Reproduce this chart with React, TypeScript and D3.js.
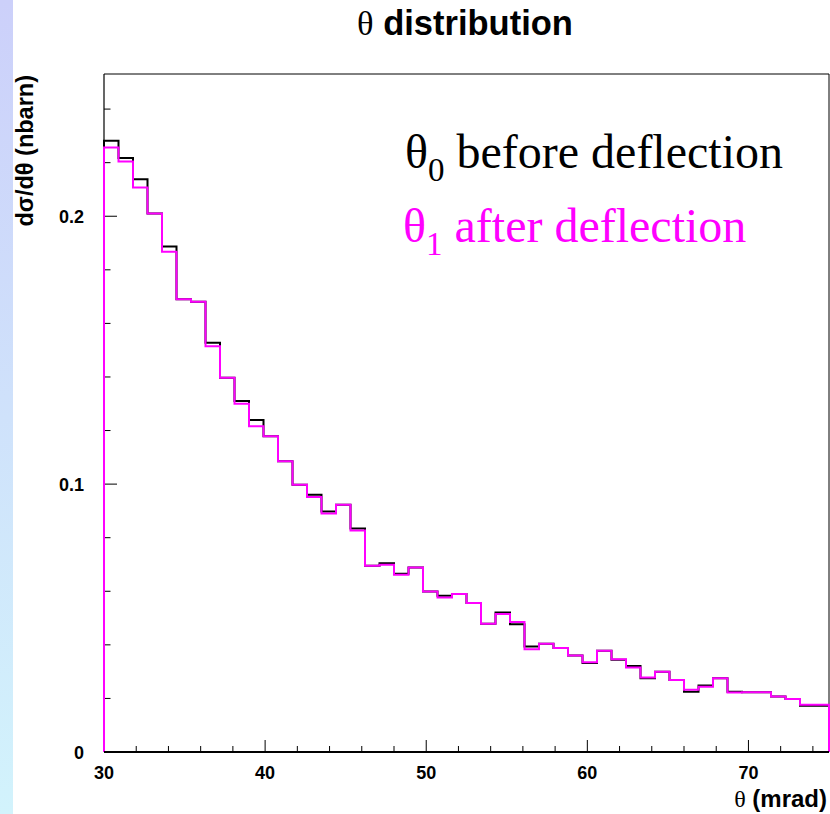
import React from "react";
import * as d3 from "d3";

const binStart = 30;
const binWidth = 0.9;
const beforeValues = [
  0.2282, 0.2217, 0.2138, 0.201, 0.1887, 0.169, 0.1681, 0.1528, 0.1397, 0.131,
  0.1239, 0.1179, 0.1085, 0.0998, 0.096, 0.0898, 0.0923, 0.0834, 0.0695, 0.0705,
  0.0665, 0.0689, 0.0599, 0.0583, 0.059, 0.0556, 0.0479, 0.0521, 0.0477, 0.0394,
  0.0404, 0.0388, 0.036, 0.0332, 0.0378, 0.0344, 0.0321, 0.0275, 0.03, 0.0269,
  0.0225, 0.0248, 0.0275, 0.0225, 0.0223, 0.0223, 0.0207, 0.0198, 0.0173, 0.0173,
];
const afterValues = [
  0.2257, 0.2204, 0.2107, 0.201, 0.1867, 0.169, 0.1681, 0.1515, 0.1397, 0.13,
  0.1216, 0.1179, 0.1085, 0.0998, 0.0952, 0.089, 0.0923, 0.0827, 0.0695, 0.0699,
  0.0662, 0.0689, 0.0599, 0.0577, 0.059, 0.0556, 0.0479, 0.0515, 0.0485, 0.0384,
  0.0404, 0.0388, 0.036, 0.0335, 0.0378, 0.0346, 0.0315, 0.0278, 0.03, 0.0269,
  0.0232, 0.0244, 0.0275, 0.0222, 0.0223, 0.0223, 0.0207, 0.0198, 0.0176, 0.0176,
];
const xMajorTicks = [30, 40, 50, 60, 70];
const xMinorTicks = [32, 34, 36, 38, 42, 44, 46, 48, 52, 54, 56, 58, 62, 64, 66, 68, 72, 74];
const yMajorTicks = [0, 0.1, 0.2];
const yMajorLabels = ["0", "0.1", "0.2"];
const yMinorTicks = [0.02, 0.04, 0.06, 0.08, 0.12, 0.14, 0.16, 0.18, 0.22, 0.24];

const W = 830;
const H = 814;
const L = 104;
const R = 829;
const T = 74;
const B = 752;

const x = d3.scaleLinear().domain([30, 75]).range([L, R]);
const y = d3.scaleLinear().domain([0, 0.2531]).range([B, T]);

function stepPath(values: number[]): string {
  const pts: [number, number][] = [];
  pts.push([binStart, 0]);
  values.forEach((v, i) => {
    const x0 = binStart + i * binWidth;
    const x1 = x0 + binWidth;
    pts.push([x0, v]);
    pts.push([x1, v]);
  });
  pts.push([binStart + values.length * binWidth, 0]);
  const line = d3
    .line<[number, number]>()
    .x((d) => x(d[0]))
    .y((d) => y(d[1]));
  return line(pts) || "";
}

const sans = "'Liberation Sans', Arial, Helvetica, sans-serif";
const serif = "'Liberation Serif', 'Times New Roman', serif";

export default function App() {
  return (
    <svg
      width={W}
      height={H}
      style={{ position: "absolute", left: 0, top: 0, background: "#fff" }}
    >
      <defs>
        <linearGradient id="strip" x1="0" y1="0" x2="0" y2="1">
          <stop offset="0%" stopColor="#ccd0fa" />
          <stop offset="100%" stopColor="#d2f3fc" />
        </linearGradient>
      </defs>
      <rect x={0} y={0} width={W} height={H} fill="#fff" />
      <rect x={0} y={0} width={13} height={H} fill="url(#strip)" />

      {/* title */}
      <text x={465} y={35} textAnchor="middle" fontFamily={sans} fontWeight="bold" fontSize={34.5}>
        <tspan fontFamily={serif} fontWeight="normal">θ</tspan>
        <tspan> distribution</tspan>
      </text>

      {/* frame */}
      <line x1={L} x2={R} y1={T} y2={T} stroke="#000" strokeWidth={1} />
      <line x1={R} x2={R} y1={T} y2={B} stroke="#000" strokeWidth={1} />
      <line x1={L} x2={L} y1={T} y2={B} stroke="#000" strokeWidth={1.2} />

      {/* y ticks */}
      {yMinorTicks.map((t) => (
        <line key={"ym" + t} x1={L} x2={L + 6.5} y1={y(t)} y2={y(t)} stroke="#000" strokeWidth={1} />
      ))}
      {yMajorTicks.map((t, i) => (
        <g key={"yM" + t}>
          <line x1={L} x2={L + 13} y1={y(t)} y2={y(t)} stroke="#000" strokeWidth={1} />
          <text
            x={84}
            y={y(t) + 7}
            textAnchor="end"
            fontFamily={sans}
            fontWeight="bold"
            fontSize={18}
          >
            {yMajorLabels[i]}
          </text>
        </g>
      ))}

      {/* x ticks */}
      {xMinorTicks.map((t) => (
        <line key={"xm" + t} x1={x(t)} x2={x(t)} y1={B} y2={B - 6} stroke="#000" strokeWidth={1} />
      ))}
      {xMajorTicks.map((t) => (
        <g key={"xM" + t}>
          <line x1={x(t)} x2={x(t)} y1={B} y2={B - 12} stroke="#000" strokeWidth={1} />
          <text
            x={x(t)}
            y={779}
            textAnchor="middle"
            fontFamily={sans}
            fontWeight="bold"
            fontSize={18}
          >
            {t}
          </text>
        </g>
      ))}

      {/* histograms */}
      <path d={stepPath(beforeValues)} fill="none" stroke="#000" strokeWidth={2} />
      <path d={stepPath(afterValues)} fill="none" stroke="#ff00ff" strokeWidth={2} />

      {/* bottom axis line */}
      <line x1={L} x2={R} y1={B} y2={B} stroke="#000" strokeWidth={2} />

      {/* axis labels */}
      <text x={827} y={807} textAnchor="end" fontFamily={sans} fontWeight="bold" fontSize={24}>
        <tspan fontFamily={serif} fontWeight="normal">θ</tspan>
        <tspan> (mrad)</tspan>
      </text>
      <text
        transform={`translate(33, ${T + 1}) rotate(-90)`}
        textAnchor="end"
        fontFamily={sans}
        fontWeight="bold"
        fontSize={23.5}
      >
        dσ/dθ (nbarn)
      </text>

      {/* legend */}
      <text x={405} y={168} fontFamily={serif} fontSize={48} fill="#000">
        <tspan>θ</tspan>
        <tspan dy={13} fontSize={33}>0</tspan>
        <tspan dy={-13}> before deflection</tspan>
      </text>
      <text x={403} y={242} fontFamily={serif} fontSize={48} fill="#ff00ff">
        <tspan>θ</tspan>
        <tspan dy={13} fontSize={33}>1</tspan>
        <tspan dy={-13}> after deflection</tspan>
      </text>
    </svg>
  );
}
